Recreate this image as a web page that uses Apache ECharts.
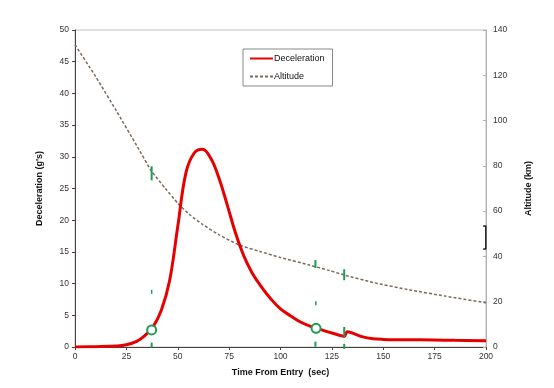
<!DOCTYPE html>
<html><head><meta charset="utf-8">
<script src="https://cdn.jsdelivr.net/npm/echarts@6/dist/echarts.min.js"></script>
<style>html,body{margin:0;padding:0;background:#fff}#c{width:554px;height:388px}</style>
</head><body><div id="c"></div>
<script>
const decelTime = [0,10,20,25,30,34,38,42,46,50,54,58,62,66,70,74,78,82,86,90,95,100,105,110,115,120,125,130,131,132.5,135,140,145,150,160,175,185,200];
const decelVals = [0,0.05,0.15,0.35,0.9,1.8,3.2,5.8,10.4,19,27.5,30.6,31.2,29.8,26.7,22.5,18.1,14.5,11.8,9.8,7.7,6.0,4.9,3.9,3.2,2.7,2.2,1.75,1.65,2.4,2.2,1.6,1.3,1.2,1.15,1.1,1.05,1.0];
const altTime = [0,10,20,30,37,44,50,56,62,70,80,90,100,114,124,131,145,163,180,200];
const altVals = [133.5,119.5,104.5,89,78,70,63.5,58.3,54.2,49.6,45,42.2,39.5,36.2,33.7,31.8,28.5,25.2,22.5,19.5];
// green event markers (time, deceleration-axis value, height)
const tickMarks = [[37.3,27.4,14],[37.3,0.3,5],[117,13.1,8],[117,0.45,5],[131,11.4,11],[131,2.37,10],[131,0.1,5]];
const dotMarks = [[37.3,8.7],[117.2,6.9]];
const circleMarks = [[37.3,2.7],[117.3,2.95]];
const bracketAlt = [53.4,43.3];
const xTicks = {min:0,max:200,interval:25};
const yLeft = {min:0,max:50,interval:5};
const yRight = {min:0,max:140,interval:20};

const font = 'Arial, "Liberation Sans", sans-serif';
const chart = echarts.init(document.getElementById('c'));
const green = '#1f9a55';
chart.setOption({
  animation:false,
  backgroundColor:'#fff',
  grid:{left:75,right:68,top:30,bottom:41,show:true,borderColor:'#c0c0c0',borderWidth:1},
  legend:{
    data:['Deceleration','Altitude'],orient:'vertical',left:243,top:49,
    padding:[5,8,5,6],itemWidth:23,itemHeight:10,itemGap:9,
    borderColor:'#888',borderWidth:1,
    itemStyle:{opacity:0,borderWidth:0},
    textStyle:{fontFamily:font,fontSize:9,color:'#111',padding:[0,0,0,-4]}
  },
  xAxis:{type:'value',min:xTicks.min,max:xTicks.max,interval:xTicks.interval,
    name:'Time From Entry  (sec)',nameLocation:'middle',nameGap:21,
    nameTextStyle:{fontFamily:font,fontSize:9,fontWeight:'bold',color:'#111'},
    axisLine:{lineStyle:{color:'#4a4040',width:1}},
    axisTick:{show:true,length:3,lineStyle:{color:'#4a4040'}},
    axisLabel:{fontFamily:font,fontSize:8.5,color:'#333',margin:5},
    splitLine:{show:false}},
  yAxis:[
    {type:'value',min:yLeft.min,max:yLeft.max,interval:yLeft.interval,position:'left',
     name:"Deceleration (g's)",nameLocation:'middle',nameGap:31,nameRotate:90,
     nameTextStyle:{fontFamily:font,fontSize:9,fontWeight:'bold',color:'#111'},
     axisLine:{show:true,lineStyle:{color:'#4a4040',width:1}},
     axisTick:{show:true,length:3,lineStyle:{color:'#4a4040'}},
     axisLabel:{fontFamily:font,fontSize:8.5,color:'#333',margin:6},
     splitLine:{show:false}},
    {type:'value',min:yRight.min,max:yRight.max,interval:yRight.interval,position:'right',
     name:'Altitude (km)',nameLocation:'middle',nameGap:38,nameRotate:90,
     nameTextStyle:{fontFamily:font,fontSize:9,fontWeight:'bold',color:'#111'},
     axisLine:{show:true,lineStyle:{color:'#b0b0b0',width:1}},
     axisTick:{show:true,inside:true,length:3,lineStyle:{color:'#b0b0b0'}},
     axisLabel:{fontFamily:font,fontSize:8.5,color:'#333',margin:7},
     splitLine:{show:false}}
  ],
  series:[
    {name:'Altitude',type:'line',yAxisIndex:1,symbol:'none',smooth:0.2,
     data:altTime.map((t,i)=>[t,altVals[i]]),
     lineStyle:{color:'#7a6a5c',width:1.5,type:[3,2]},itemStyle:{color:'#7a6a5c'},z:2},
    {name:'Deceleration',type:'line',yAxisIndex:0,symbol:'none',smooth:0.4,
     data:decelTime.map((t,i)=>[t,decelVals[i]]),
     lineStyle:{color:'#e60000',width:3},itemStyle:{color:'#e60000'},z:3},
    {name:'ticks',type:'scatter',yAxisIndex:0,silent:true,z:5,
     data:tickMarks.map(d=>({value:[d[0],d[1]],symbolSize:[2,d[2]]})),
     symbol:'rect',itemStyle:{color:green,opacity:1}},
    {name:'dots',type:'scatter',yAxisIndex:0,silent:true,z:5,
     data:dotMarks,symbol:'rect',symbolSize:[1.5,4],itemStyle:{color:green,opacity:1}},
    {name:'circles',type:'scatter',yAxisIndex:0,silent:true,z:6,
     data:circleMarks,symbol:'circle',symbolSize:9,
     itemStyle:{color:'#fff',borderColor:green,borderWidth:2,opacity:1}},
    {name:'bracket',type:'line',yAxisIndex:1,symbol:'none',silent:true,z:6,
     data:[[198.6,bracketAlt[0]],[199.9,bracketAlt[0]],[199.9,bracketAlt[1]],[198.6,bracketAlt[1]]],
     lineStyle:{color:'#222',width:1.5}}
  ]
});
</script></body></html>
